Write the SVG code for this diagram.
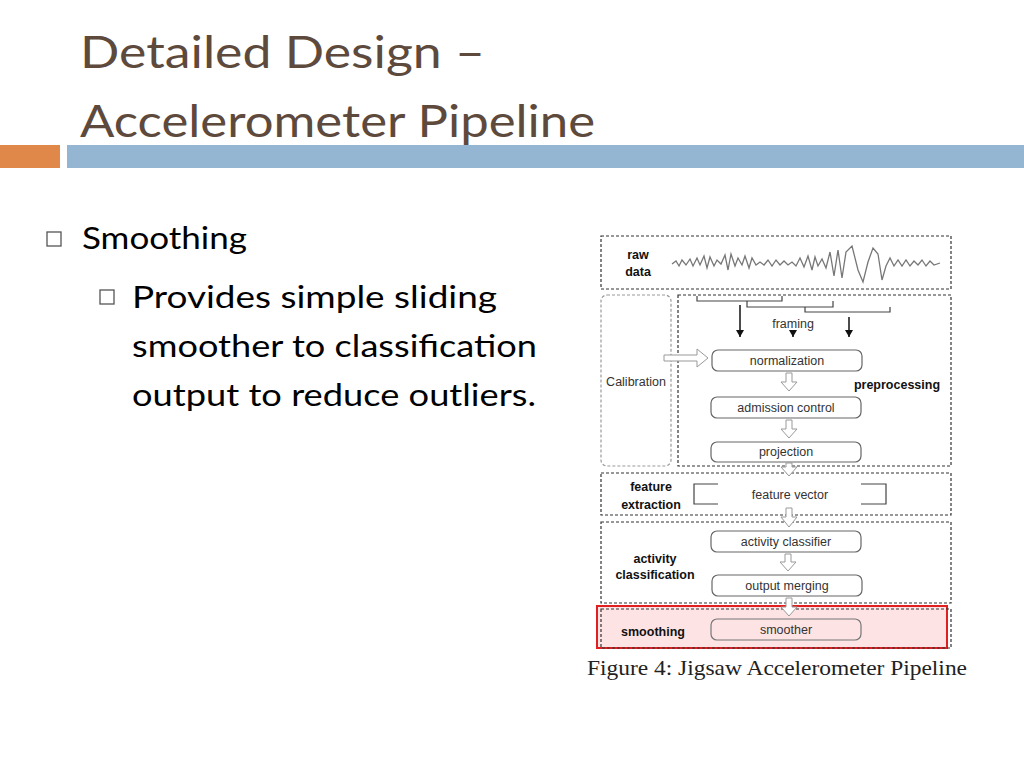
<svg xmlns="http://www.w3.org/2000/svg" width="1024" height="768" viewBox="0 0 1024 768">
<defs>
<style>
.t{font-family:Lato,"Open Sans",sans-serif;fill:#000}
.d{fill:none;stroke:#333;stroke-width:1.2;stroke-dasharray:3 2}
.n{fill:#fff;stroke:#666;stroke-width:1.2}
.nl{font-family:"Liberation Sans",Arial,sans-serif;font-size:12.5px;fill:#333;text-anchor:middle}
.b{font-family:"Liberation Sans",Arial,sans-serif;font-size:12.5px;font-weight:bold;fill:#111;text-anchor:middle}
.ha{fill:#fff;stroke:#999;stroke-width:1}
</style>
<marker id="ah" markerWidth="8" markerHeight="10" refX="7" refY="4" orient="auto" markerUnits="userSpaceOnUse"><path d="M0,0 L7,4 L0,8 Z" fill="#111"/></marker>
</defs>
<rect width="1024" height="768" fill="#fff"/>
<text class="t" x="80" y="68" font-size="44" textLength="405" lengthAdjust="spacingAndGlyphs" style="fill:#5e4a3c">Detailed Design –</text>
<text class="t" x="80" y="137" font-size="44" textLength="515" lengthAdjust="spacingAndGlyphs" style="fill:#5e4a3c">Accelerometer Pipeline</text>
<rect x="0" y="145" width="60" height="23" fill="#e0884a"/>
<rect x="67" y="145" width="957" height="23" fill="#94b6d2"/>
<rect x="47" y="232" width="14" height="14" fill="none" stroke="#555" stroke-width="1.3"/>
<text class="t" x="82" y="249" font-size="31" textLength="165" lengthAdjust="spacingAndGlyphs">Smoothing</text>
<rect x="100" y="290" width="14" height="14" fill="none" stroke="#555" stroke-width="1.3"/>
<text class="t" x="132" y="308" font-size="31" textLength="365" lengthAdjust="spacingAndGlyphs">Provides simple sliding</text>
<text class="t" x="132" y="357" font-size="31" textLength="405" lengthAdjust="spacingAndGlyphs">smoother to classification</text>
<text class="t" x="132" y="406" font-size="31" textLength="404" lengthAdjust="spacingAndGlyphs">output to reduce outliers.</text>

<g id="rawdata">
<rect class="d" x="601" y="236" width="350" height="53"/>
<text class="b" x="638" y="259">raw</text><text class="b" x="638" y="276">data</text>
<polyline fill="none" stroke="#777" stroke-width="1.3" points="672,264 676,261 679,266 682,260 686,265 690,259 693,266 697,258 700,265 704,256 707,268 710,257 714,266 717,260 721,264 725,255 728,270 731,254 735,266 738,258 742,265 745,256 749,268 752,258 756,265 760,262 764,265 768,260 772,266 776,260 780,265 784,261 788,265 792,262 796,266 800,258 804,267 808,256 812,270 815,257 818,266 822,259 826,268 830,252 834,276 838,250 842,278 846,252 852,246 858,270 863,282 868,262 873,248 878,254 882,280 886,266 890,258 894,266 898,260 902,266 906,260 910,266 914,261 918,265 922,260 926,266 930,261 934,265 940,263"/>
</g>
<g id="calibration">
<rect x="601" y="295" width="70" height="171" rx="6" fill="none" stroke="#999" stroke-width="1.2" stroke-dasharray="3 2"/>
<text x="636" y="386" font-family="Liberation Sans,Arial,sans-serif" font-size="12.5" fill="#333" text-anchor="middle">Calibration</text>
</g>
<g id="preprocessing">
<rect class="d" x="678" y="295" width="273" height="171"/>
<text class="b" x="897" y="389">preprocessing</text>
<text class="nl" x="793" y="328">framing</text>
</g>
<g id="framingbrackets" fill="none" stroke="#444" stroke-width="1.2">
<path d="M697,296 V301 H782 V296"/>
<path d="M747,301 V307 H833 V301"/>
<path d="M805,307 V312 H890 V307"/>
</g>
<g id="normalization"><rect class="n" x="712" y="350" width="150" height="21" rx="6"/><text class="nl" x="787" y="365">normalization</text></g>
<g id="admission"><rect class="n" x="711" y="397" width="150" height="21" rx="6"/><text class="nl" x="786" y="412">admission control</text></g>
<g id="projection"><rect class="n" x="711" y="442" width="150" height="20" rx="6"/><text class="nl" x="786" y="456">projection</text></g>
<g id="feature">
<rect class="d" x="601" y="473" width="350" height="42"/>
<text class="b" x="651" y="491">feature</text><text class="b" x="651" y="509">extraction</text>
<path d="M718,484 H694 V504 H718 M861,484 H886 V504 H861" fill="none" stroke="#444" stroke-width="1.2"/>
<text class="nl" x="790" y="499">feature vector</text>
</g>
<g id="activity">
<rect class="d" x="601" y="522" width="350" height="81"/>
<text class="b" x="655" y="563">activity</text><text class="b" x="655" y="579">classification</text>
</g>
<g id="classifier"><rect class="n" x="711" y="531" width="150" height="21" rx="6"/><text class="nl" x="786" y="546">activity classifier</text></g>
<g id="merging"><rect class="n" x="712" y="575" width="150" height="21" rx="6"/><text class="nl" x="787" y="590">output merging</text></g>
<g id="smoothing">
<rect x="597" y="606" width="350" height="42" fill="#fde3e3" stroke="#e02020" stroke-width="2"/>
<rect class="d" x="601" y="609" width="350" height="39"/>
<text class="b" x="653" y="636">smoothing</text>
</g>
<g id="smoother"><rect x="711" y="619" width="150" height="21" rx="6" fill="#fde3e3" stroke="#777" stroke-width="1.2"/><text class="nl" x="786" y="634">smoother</text></g>
<g id="connectors">
<line x1="740" y1="305" x2="740" y2="337" stroke="#111" stroke-width="1.5" marker-end="url(#ah)"/>
<line x1="793" y1="331" x2="793" y2="337" stroke="#111" stroke-width="1.5" marker-end="url(#ah)"/>
<line x1="849" y1="317" x2="849" y2="337" stroke="#111" stroke-width="1.5" marker-end="url(#ah)"/>
<path class="ha" d="M664,355 H697 V349 L708,358 L697,367 V361 H664 Z"/>
<path class="ha" d="M786,373 H792 V382 H797 L789,391 L781,382 H786 Z"/>
<path class="ha" d="M786,420 H792 V429 H797 L789,438 L781,429 H786 Z"/>
<path class="ha" d="M786,463 H792 V467 H797 L789,476 L781,467 H786 Z"/>
<path class="ha" d="M786,508 H792 V517 H797 L789,527 L781,517 H786 Z"/>
<path class="ha" d="M785,554 H791 V562 H796 L788,571 L780,562 H785 Z"/>
<path class="ha" d="M786,598 H792 V607 H797 L789,616 L781,607 H786 Z"/>
</g>
<text x="777" y="675" font-family="Liberation Serif,Times New Roman,serif" font-size="21" fill="#222" text-anchor="middle" textLength="380" lengthAdjust="spacingAndGlyphs">Figure 4: Jigsaw Accelerometer Pipeline</text>
</svg>
